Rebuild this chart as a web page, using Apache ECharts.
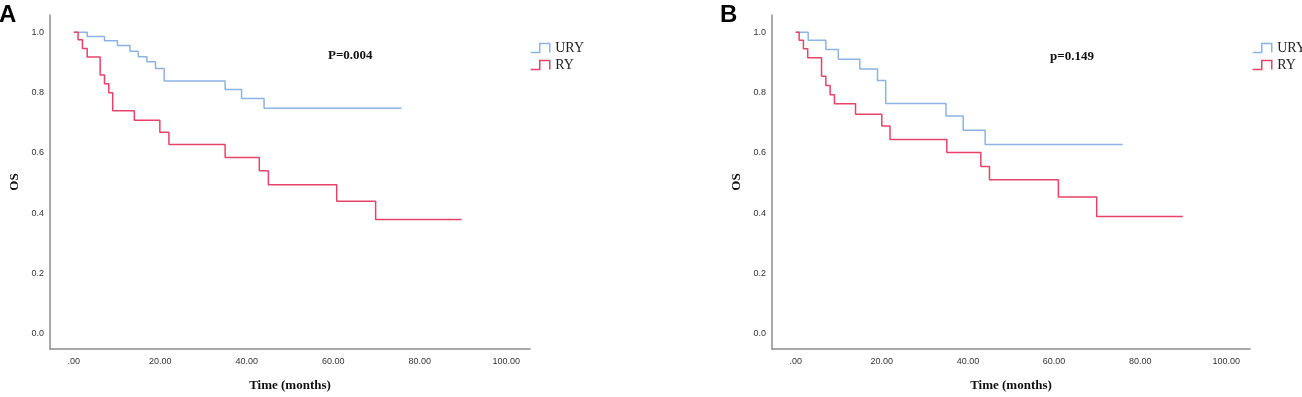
<!DOCTYPE html>
<html>
<head>
<meta charset="utf-8">
<script src="https://cdn.jsdelivr.net/npm/echarts@6/dist/echarts.min.js"></script>
<style>
  html, body {margin: 0; padding: 0; background: #fff;}
  #chart-ctn {width: 1302px; height: 397px;}
</style>
</head>
<body>
<div id="chart-ctn"></div>
<script>
// panel A: event times (months) and survival after each step
var uryTimeA = [0, 3.1, 7.1, 10.1, 13.0, 14.9, 16.9, 18.9, 20.9, 35.0, 38.8, 44.0, 75.8];
var urySurvA = [1, 0.986, 0.972, 0.956, 0.937, 0.919, 0.902, 0.880, 0.838, 0.810, 0.780, 0.748, 0.748];
var ryTimeA = [0, 1.0, 2.0, 3.1, 6.1, 7.1, 8.1, 9.0, 14.0, 19.9, 22.0, 35.0, 42.9, 45.0, 60.8, 69.8, 89.7];
var rySurvA = [1, 0.975, 0.946, 0.918, 0.858, 0.829, 0.799, 0.740, 0.708, 0.668, 0.628, 0.585, 0.541, 0.494, 0.440, 0.379, 0.379];

// panel B
var uryTimeB = [0, 2.9, 7.0, 9.9, 14.9, 19.0, 20.9, 34.9, 38.9, 44.0, 75.9];
var urySurvB = [1, 0.973, 0.943, 0.910, 0.878, 0.840, 0.764, 0.722, 0.675, 0.628, 0.628];
var ryTimeB = [0, 0.8, 1.8, 2.8, 6.0, 7.0, 8.0, 9.0, 13.9, 20.0, 21.9, 35.1, 43.0, 45.0, 61.0, 69.9, 89.9];
var rySurvB = [1, 0.973, 0.945, 0.915, 0.854, 0.823, 0.793, 0.763, 0.728, 0.689, 0.644, 0.601, 0.555, 0.511, 0.454, 0.389, 0.389];

var xTicks = [0, 20, 40, 60, 80, 100];
var yTicks = [0, 0.2, 0.4, 0.6, 0.8, 1.0];
var groups = ['URY', 'RY'];
var pValues = ['P=0.004', 'p=0.149'];

var uryColor = '#8db3e2';
var ryColor = '#e8426a';
var axisColor = '#8c8c8c';
var serif = '"Liberation Serif", "DejaVu Serif", serif';
var sans = '"Liberation Sans", Arial, sans-serif';

function toPairs(times, surv) {
  var pairs = [];
  for (var i = 0; i < times.length; i++) {
    pairs.push([times[i], surv[i]]);
  }
  return pairs;
}

function xAxisSet(idx) {
  return {
    type: 'value', gridIndex: idx, min: -5.5, max: 105.5,
    name: 'Time (months)', nameLocation: 'middle', nameGap: 30,
    nameTextStyle: {fontFamily: serif, fontWeight: 'bold', fontSize: 13, color: '#111'},
    axisLine: {onZero: false, lineStyle: {color: axisColor, width: 1.5}},
    axisTick: {show: false},
    splitLine: {show: false},
    axisLabel: {
      customValues: xTicks, margin: 8, fontFamily: sans, fontSize: 9, color: '#333',
      formatter: function(v) { return v === 0 ? '.00' : v.toFixed(2); }
    }
  }
}

function yAxisSet(idx) {
  return {
    type: 'value', gridIndex: idx, min: -0.05, max: 1.057,
    name: 'OS', nameLocation: 'middle', nameGap: 29,
    nameTextStyle: {fontFamily: serif, fontWeight: 'bold', fontSize: 13, color: '#111'},
    axisLine: {show: true, onZero: false, lineStyle: {color: axisColor, width: 1.5}},
    axisTick: {show: false},
    splitLine: {show: false},
    axisLabel: {
      customValues: yTicks, margin: 6, fontFamily: sans, fontSize: 9, color: '#333',
      formatter: function(v) { return v.toFixed(1); }
    }
  }
}

function kmSeries(name, idx, data, color) {
  return {
    name: name, type: 'line', step: 'end', xAxisIndex: idx, yAxisIndex: idx,
    data: data, showSymbol: false, symbol: 'none', silent: true,
    lineStyle: {color: color, width: 1.5}, itemStyle: {color: color}
  }
}

function legendSet(left) {
  var icon = 'path://M0,9 L9,9 L9,0 L19,0 L19,9';
  return {
    left: left, top: 41, padding: 0, orient: 'vertical', itemGap: 3,
    itemWidth: 20, itemHeight: 9, icon: icon,
    textStyle: {fontFamily: serif, fontSize: 14, color: '#222'},
    data: [
      {name: groups[0], itemStyle: {color: 'rgba(0,0,0,0)', borderColor: uryColor, borderWidth: 1.5}},
      {name: groups[1], itemStyle: {color: 'rgba(0,0,0,0)', borderColor: ryColor, borderWidth: 1.5}}
    ],
    selectedMode: false
  }
}

var myChart = echarts.init(document.getElementById('chart-ctn'), null, {renderer: 'canvas'});

var option = {
  animation: false,
  backgroundColor: '#fff',
  title: [
    {text: 'A', left: -1, top: 3, padding: 0, textStyle: {fontFamily: sans, fontWeight: 'bold', fontSize: 24, color: '#000'}},
    {text: 'B', left: 720, top: 3, padding: 0, textStyle: {fontFamily: sans, fontWeight: 'bold', fontSize: 24, color: '#000'}},
    {text: pValues[0], left: 328, top: 49, padding: 0, textStyle: {fontFamily: serif, fontWeight: 'bold', fontSize: 13, color: '#111'}},
    {text: pValues[1], left: 1050, top: 50, padding: 0, textStyle: {fontFamily: serif, fontWeight: 'bold', fontSize: 13, color: '#111'}}
  ],
  legend: [legendSet(530), legendSet(1252)],
  grid: [
    {left: 50, top: 15, width: 480, height: 340, containLabel: false},
    {left: 772, top: 15, width: 478, height: 340, containLabel: false}
  ],
  xAxis: [xAxisSet(0), xAxisSet(1)],
  yAxis: [yAxisSet(0), yAxisSet(1)],
  series: [
    kmSeries('URY', 0, toPairs(uryTimeA, urySurvA), uryColor),
    kmSeries('RY', 0, toPairs(ryTimeA, rySurvA), ryColor),
    kmSeries('URY', 1, toPairs(uryTimeB, urySurvB), uryColor),
    kmSeries('RY', 1, toPairs(ryTimeB, rySurvB), ryColor)
  ]
};

myChart.setOption(option);
</script>
</body>
</html>
